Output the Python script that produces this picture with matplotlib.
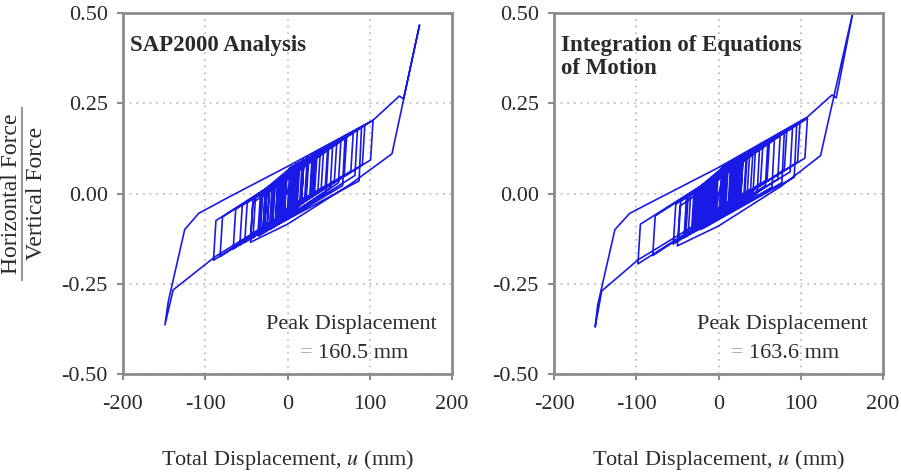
import numpy as np
import matplotlib
matplotlib.use("Agg")
import matplotlib.pyplot as plt
from matplotlib.lines import Line2D

# hysteresis paths: (displacement mm, horizontal/vertical force)
sap_path = np.array([
    [0, 0.0],
    [15, 0.088], [12, -0.022], [-10, -0.081], [-7, 0.029],
    [20, 0.094], [17, -0.016], [-20, -0.094], [-17, 0.016],
    [10, 0.081], [7, -0.029], [-25, -0.100], [-22, 0.010],
    [25, 0.100], [22, -0.010], [-15, -0.088], [-12, 0.022],
    [31, 0.108], [28, -0.002], [-33, -0.111], [-30, -0.001],
    [20, 0.094], [17, -0.016], [-42, -0.123], [-39, -0.013],
    [40, 0.120], [37, 0.010], [-25, -0.100], [-22, 0.010],
    [49, 0.132], [46, 0.022], [-52, -0.136], [-49, -0.026],
    [60, 0.146], [57, 0.036], [-58, -0.143], [-55, -0.033],
    [35, 0.114], [32, 0.004], [-30, -0.107], [-27, 0.003],
    [72, 0.162], [69, 0.052], [-66, -0.154], [-63, -0.044],
    [80, 0.172], [77, 0.062], [-82, -0.175], [-79, -0.065],
    [94, 0.190], [91, 0.080], [-90, -0.185], [-87, -0.075],
    [104, 0.203], [101, 0.093], [-88, -0.175], [-139, -0.267],
    [-149, -0.364], [-145, -0.300], [-125, -0.100], [-108, -0.055],
    [-73, -0.012], [0, 0.075], [104, 0.203], [136, 0.270], [141, 0.262],
    [160.5, 0.467], [127, 0.110], [76, 0.025], [0, -0.085],
    [-45, -0.135], [-42, -0.025],
    [85, 0.178], [82, 0.050], [-35, -0.118], [-32, -0.010],
    [65, 0.152], [62, 0.030], [-20, -0.098], [-17, 0.012],
    [55, 0.140], [52, 0.015], [-28, -0.106], [-25, 0.004],
    [90, 0.185], [87, 0.035], [-15, -0.090], [-12, 0.020],
    [70, 0.159], [67, 0.022], [-20, -0.097], [-17, 0.013],
    [50, 0.133], [47, 0.005], [-10, -0.083], [-7, 0.027],
    [5, 0.075], [2, -0.037], [-5, -0.075], [-2, 0.035],
    [8, 0.078], [5, -0.034], [-12, -0.084], [-9, 0.026],
    [14, 0.086], [11, -0.026], [-6, -0.076], [-3, 0.034],
    [3, 0.072], [0, -0.040], [-18, -0.091], [-15, 0.019],
    [26, 0.102], [23, -0.008], [-8, -0.078], [-5, 0.032],
    [18, 0.091], [15, -0.019], [-28, -0.104], [-25, 0.006],
    [36, 0.115], [33, 0.005], [-14, -0.086], [-11, 0.024],
    [12, 0.084], [9, -0.026], [-36, -0.115], [-33, -0.005],
    [44, 0.125], [41, 0.015], [-22, -0.097], [-19, 0.013],
    [24, 0.099], [21, -0.011], [-45, -0.127], [-42, -0.017],
    [6, 0.076], [3, -0.034], [-30, -0.107], [-27, 0.003],
    [33, 0.111], [30, 0.001], [-4, -0.073], [-1, 0.037],
    [30, 0.107], [27, -0.010], [-12, -0.085], [-9, 0.025],
    [20, 0.094], [17, -0.020], [-8, -0.078], [-5, 0.030],
    [10, 0.081], [7, -0.030], [-5, -0.075], [-2, 0.030],
    [0, 0.0],
])

eom_path = np.array([
    [0, 0.0],
    [12, 0.084], [9, -0.026], [-8, -0.078], [-5, 0.032],
    [18, 0.091], [15, -0.019], [-15, -0.088], [-12, 0.022],
    [8, 0.078], [5, -0.032], [-22, -0.097], [-19, 0.013],
    [22, 0.097], [19, -0.013], [-12, -0.084], [-9, 0.026],
    [28, 0.104], [25, -0.006], [-31, -0.108], [-28, 0.002],
    [15, 0.088], [12, -0.022], [-37, -0.116], [-34, -0.006],
    [38, 0.117], [35, 0.007], [-20, -0.094], [-17, 0.016],
    [54, 0.138], [51, 0.028], [-49, -0.132], [-46, -0.022],
    [62, 0.149], [59, 0.039], [-55, -0.140], [-52, -0.030],
    [30, 0.107], [27, -0.003], [-25, -0.100], [-22, 0.010],
    [83, 0.176], [80, 0.066], [-80, -0.172], [-77, -0.062],
    [99, 0.197], [96, 0.087], [-98, -0.195], [-95, -0.085],
    [108, 0.208], [105, 0.098], [-98, -0.184], [-142, -0.270],
    [-150, -0.370], [-147, -0.310], [-126, -0.100], [-108, -0.055],
    [-75, -0.016], [0, 0.072], [108, 0.212], [138, 0.273], [143, 0.265],
    [165, 0.520], [124, 0.105], [76, 0.020], [0, -0.090],
    [-50, -0.145], [-47, -0.035],
    [90, 0.185], [87, 0.060], [-40, -0.120], [-37, -0.010],
    [75, 0.166], [72, 0.040], [-25, -0.100], [-22, 0.010],
    [60, 0.146], [57, 0.022], [-30, -0.107], [-27, 0.003],
    [95, 0.192], [92, 0.045], [-18, -0.095], [-15, 0.015],
    [80, 0.172], [77, 0.030], [-22, -0.100], [-19, 0.010],
    [68, 0.156], [65, 0.018], [-14, -0.088], [-11, 0.022],
    [50, 0.133], [47, 0.000], [-10, -0.083], [-7, 0.027],
    [6, 0.076], [3, -0.034], [-6, -0.076], [-3, 0.034],
    [10, 0.081], [7, -0.029], [-14, -0.086], [-11, 0.024],
    [16, 0.089], [13, -0.021], [-4, -0.073], [-1, 0.037],
    [4, 0.073], [1, -0.037], [-20, -0.094], [-17, 0.016],
    [24, 0.099], [21, -0.011], [-10, -0.081], [-7, 0.029],
    [20, 0.094], [17, -0.016], [-26, -0.102], [-23, 0.008],
    [34, 0.112], [31, 0.002], [-16, -0.089], [-13, 0.021],
    [10, 0.081], [7, -0.029], [-33, -0.111], [-30, -0.001],
    [42, 0.123], [39, 0.013], [-24, -0.099], [-21, 0.011],
    [26, 0.102], [23, -0.008], [-42, -0.123], [-39, -0.013],
    [8, 0.078], [5, -0.032], [-28, -0.104], [-25, 0.006],
    [35, 0.114], [32, 0.004], [-6, -0.076], [-3, 0.034],
    [45, 0.127], [42, 0.005], [-15, -0.088], [-12, 0.022],
    [30, 0.107], [27, -0.012], [-10, -0.081], [-7, 0.029],
    [18, 0.091], [15, -0.025], [-6, -0.076], [-3, 0.034],
    [10, 0.081], [7, -0.032], [-4, -0.073], [0, 0.0],
])

panel_titles = ["SAP2000 Analysis", "Integration of Equations\nof Motion"]
peak_values = ["160.5 mm", "163.6 mm"]
x_ticks = [-200, -100, 0, 100, 200]
x_ticklabels = ["-200", "-100", "0", "100", "200"]
y_ticks = [-0.50, -0.25, 0.00, 0.25, 0.50]
y_ticklabels = ["-0.50", "-0.25", "0.00", "0.25", "0.50"]

plt.rcParams["font.family"] = ["Liberation Serif", "DejaVu Serif"]
plt.rcParams["mathtext.fontset"] = "stix"
plt.rcParams["axes.unicode_minus"] = False

text_col = "#2a2a2a"
spine_col = "#8c8c8c"
line_col = "#1a1ae6"

fig = plt.figure(figsize=(9.01, 4.73), dpi=100)
ax1 = fig.add_axes([0.1365, 0.2093, 0.3652, 0.7632])
ax2 = fig.add_axes([0.6149, 0.2093, 0.3652, 0.7632])

for ax, path, title, peak in zip([ax1, ax2], [sap_path, eom_path], panel_titles, peak_values):
    ax.plot(path[:, 0], path[:, 1], color=line_col, linewidth=1.2)
    ax.set_xlim(-200, 200)
    ax.set_ylim(-0.5, 0.5)
    ax.set_xticks(x_ticks)
    ax.set_xticklabels(x_ticklabels)
    ax.set_yticks(y_ticks)
    ax.set_yticklabels(y_ticklabels)
    ax.grid(True, linestyle=(0, (1, 3)), color="#b5b5b5", linewidth=1.2)
    ax.set_axisbelow(True)
    for s in ax.spines.values():
        s.set_color(spine_col)
        s.set_linewidth(2)
    ax.tick_params(axis="both", direction="out", length=4, width=1.5, color=spine_col,
                   labelsize=16, labelcolor=text_col)
    ax.tick_params(axis="x", pad=11)
    ax.tick_params(axis="y", pad=7)
    ax.set_xlabel("Total Displacement, $u$ (mm)", fontsize=16, color=text_col)
    ax.xaxis.set_label_coords(0.5, -0.205)

    ax.text(0.021, 0.94, title, transform=ax.transAxes, fontsize=16.5, fontweight="bold",
            color=text_col, ha="left", va="top", linespacing=1.15)
    ax.text(0.693, 0.136, "Peak Displacement", transform=ax.transAxes, fontsize=16,
            color=text_col, ha="center", va="center")
    ax.text(0.538, 0.058, "=", transform=ax.transAxes, fontsize=16, color="#a0a0a0",
            ha="left", va="center")
    ax.text(0.594, 0.058, peak, transform=ax.transAxes, fontsize=16, color=text_col,
            ha="left", va="center")

# y label written as a fraction
fig.text(12 / 901, 0.59, "Horizontal Force", rotation=90, ha="center", va="center",
         fontsize=17, color=text_col)
fig.text(37 / 901, 0.59, "Vertical Force", rotation=90, ha="center", va="center",
         fontsize=17, color=text_col)
fig.add_artist(Line2D([22 / 901, 22 / 901], [0.408, 0.772], transform=fig.transFigure,
                      color="#9a9a9a", linewidth=1.5))

fig.savefig("out.png", dpi=100)
